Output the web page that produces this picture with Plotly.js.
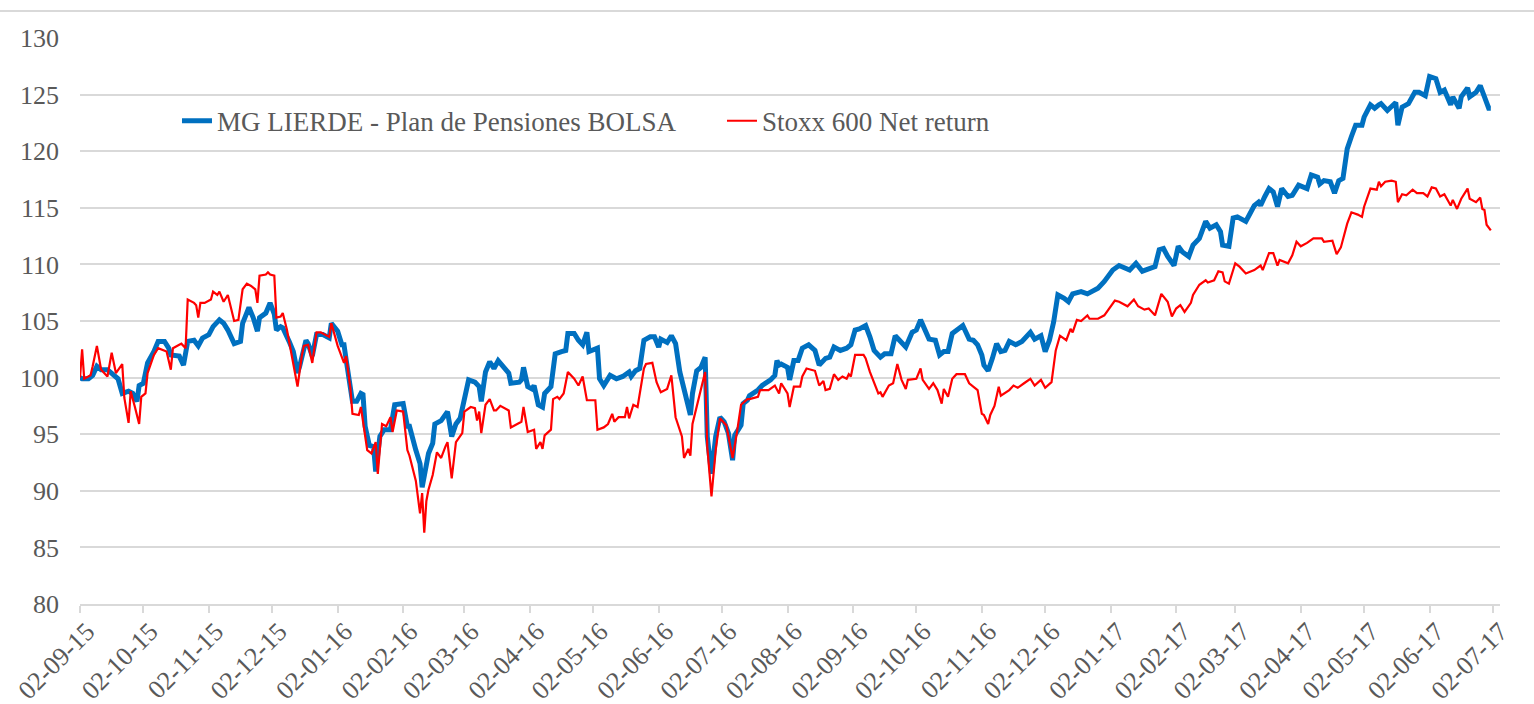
<!DOCTYPE html>
<html>
<head>
<meta charset="utf-8">
<script src="https://cdn.plot.ly/plotly-3.0.1.min.js"></script>
<style>
  html, body { margin: 0; padding: 0; background: #ffffff; }
  #chart { width: 1534px; height: 704px; }
</style>
</head>
<body>
<div id="chart"></div>
<script>
// ---- Data ----
const fundName = "MG LIERDE - Plan de Pensiones BOLSA";
const indexName = "Stoxx 600 Net return";

const fundDates = [
"2015-09-02","2015-09-03","2015-09-06","2015-09-08","2015-09-10","2015-09-12","2015-09-15","2015-09-17","2015-09-20","2015-09-22",
"2015-09-25","2015-09-27","2015-09-29","2015-09-30","2015-10-02","2015-10-04","2015-10-07","2015-10-09","2015-10-12","2015-10-14",
"2015-10-15","2015-10-19","2015-10-21","2015-10-23","2015-10-26","2015-10-28","2015-10-30","2015-11-02","2015-11-04","2015-11-07",
"2015-11-09","2015-11-11","2015-11-13","2015-11-14","2015-11-17","2015-11-18","2015-11-21","2015-11-23","2015-11-25","2015-11-26",
"2015-11-29","2015-12-01","2015-12-03","2015-12-04","2015-12-06","2015-12-07","2015-12-10","2015-12-12","2015-12-14","2015-12-15",
"2015-12-18","2015-12-19","2015-12-21","2015-12-23","2015-12-26","2015-12-29","2015-12-30","2016-01-02","2016-01-04","2016-01-05",
"2016-01-06","2016-01-08","2016-01-09","2016-01-11","2016-01-13","2016-01-14","2016-01-15","2016-01-17","2016-01-19","2016-01-20",
"2016-01-22","2016-01-24","2016-01-27","2016-01-29","2016-02-01","2016-02-02","2016-02-04","2016-02-05","2016-02-08","2016-02-10",
"2016-02-11","2016-02-13","2016-02-14","2016-02-16","2016-02-17","2016-02-20","2016-02-23","2016-02-25","2016-02-27","2016-02-29",
"2016-03-02","2016-03-04","2016-03-07","2016-03-09","2016-03-10","2016-03-12","2016-03-14","2016-03-16","2016-03-18","2016-03-21",
"2016-03-23","2016-03-24","2016-03-28","2016-03-29","2016-03-30","2016-04-01","2016-04-03","2016-04-04","2016-04-06","2016-04-08",
"2016-04-09","2016-04-12","2016-04-14","2016-04-17","2016-04-19","2016-04-20","2016-04-23","2016-04-25","2016-04-27","2016-04-29",
"2016-04-30","2016-05-04","2016-05-05","2016-05-07","2016-05-10","2016-05-13","2016-05-16","2016-05-19","2016-05-20","2016-05-22",
"2016-05-24","2016-05-26","2016-05-29","2016-05-31","2016-06-02","2016-06-03","2016-06-06","2016-06-08","2016-06-10","2016-06-12",
"2016-06-14","2016-06-17","2016-06-18","2016-06-20","2016-06-22","2016-06-24","2016-06-25","2016-06-27","2016-06-29","2016-07-01",
"2016-07-03","2016-07-05","2016-07-07","2016-07-08","2016-07-11","2016-07-12","2016-07-14","2016-07-15","2016-07-19","2016-07-21",
"2016-07-25","2016-07-27","2016-07-28","2016-07-29","2016-07-30","2016-08-02","2016-08-03","2016-08-05","2016-08-07","2016-08-09",
"2016-08-12","2016-08-15","2016-08-17","2016-08-20","2016-08-22","2016-08-24","2016-08-27","2016-08-30","2016-09-01","2016-09-03",
"2016-09-05","2016-09-07","2016-09-08","2016-09-10","2016-09-12","2016-09-15","2016-09-17","2016-09-20","2016-09-22","2016-09-24",
"2016-09-27","2016-09-30","2016-10-02","2016-10-04","2016-10-06","2016-10-08","2016-10-11","2016-10-13","2016-10-15","2016-10-17",
"2016-10-19","2016-10-21","2016-10-24","2016-10-27","2016-10-29","2016-10-31","2016-11-02","2016-11-03","2016-11-05","2016-11-07",
"2016-11-09","2016-11-11","2016-11-13","2016-11-15","2016-11-18","2016-11-21","2016-11-25","2016-11-27","2016-11-30","2016-12-02",
"2016-12-04","2016-12-06","2016-12-08","2016-12-11","2016-12-13","2016-12-15","2016-12-19","2016-12-22","2016-12-24","2016-12-27",
"2016-12-30","2017-01-03","2017-01-06","2017-01-09","2017-01-11","2017-01-14","2017-01-17","2017-01-20","2017-01-23","2017-01-25",
"2017-01-27","2017-01-29","2017-02-01","2017-02-03","2017-02-05","2017-02-08","2017-02-10","2017-02-13","2017-02-16","2017-02-18",
"2017-02-21","2017-02-23","2017-02-24","2017-02-27","2017-03-01","2017-03-03","2017-03-07","2017-03-09","2017-03-11","2017-03-13",
"2017-03-14","2017-03-16","2017-03-18","2017-03-20","2017-03-22","2017-03-24","2017-03-27","2017-03-29","2017-04-01","2017-04-05",
"2017-04-07","2017-04-10","2017-04-11","2017-04-13","2017-04-16","2017-04-18","2017-04-20","2017-04-22","2017-04-23","2017-04-24",
"2017-04-26","2017-04-28","2017-05-01","2017-05-02","2017-05-05","2017-05-07","2017-05-09","2017-05-10","2017-05-13","2017-05-15",
"2017-05-17","2017-05-18","2017-05-20","2017-05-23","2017-05-26","2017-05-28","2017-05-31","2017-06-02","2017-06-05","2017-06-07",
"2017-06-09","2017-06-12","2017-06-13","2017-06-16","2017-06-17","2017-06-20","2017-06-21","2017-06-24","2017-06-26","2017-06-28",
"2017-06-30","2017-07-01"
];
const fundValues = [
100.0,99.9,99.9,100.2,101.0,100.7,100.7,100.4,99.9,98.6,
98.8,98.6,97.9,99.3,99.5,101.3,102.3,103.2,103.2,102.6,
102.0,101.9,101.1,103.2,103.3,102.8,103.5,103.8,104.5,105.1,
104.8,104.2,103.2,103.0,103.2,104.8,106.2,105.3,104.1,105.3,
105.7,106.6,105.6,104.2,104.5,104.4,103.2,102.3,100.4,101.0,
103.3,103.0,101.9,103.8,103.8,103.5,104.8,104.1,102.9,102.9,
101.6,99.1,97.9,97.9,98.6,98.5,95.7,94.0,93.9,91.7,
94.8,95.4,95.4,97.6,97.7,97.7,95.7,95.7,93.6,92.4,
90.3,92.0,93.3,94.2,95.9,96.2,97.0,94.8,95.9,96.4,
98.0,99.8,99.6,99.2,97.9,100.5,101.4,100.8,101.5,100.8,
100.4,99.5,99.6,99.8,100.9,99.2,99.0,99.3,97.6,97.4,
98.6,99.2,102.1,102.3,102.4,103.9,103.9,103.3,102.9,104.0,
102.3,102.6,99.9,99.3,100.2,99.9,100.1,100.5,100.1,100.6,
100.8,103.3,103.6,103.6,102.7,103.4,103.1,103.7,103.0,100.5,
98.9,96.7,98.6,100.6,100.9,101.8,94.8,91.5,94.8,96.5,
96.1,95.1,92.7,94.9,95.8,97.7,98.0,98.4,98.9,99.3,
99.8,100.2,101.5,101.1,101.2,100.9,99.8,101.5,101.5,102.6,
102.9,102.4,101.1,101.7,101.8,102.7,102.4,102.6,102.9,104.2,
104.3,104.5,104.6,103.6,102.4,101.8,102.1,102.1,103.7,103.3,
102.7,104.0,104.2,105.1,104.2,103.4,103.3,102.0,102.3,102.3,
103.9,104.2,104.6,103.4,103.3,102.9,102.0,101.1,100.6,101.7,
103.0,102.3,102.4,103.2,102.9,103.2,104.0,103.4,103.7,102.3,
103.3,104.9,107.3,107.0,106.7,107.4,107.6,107.4,107.6,107.9,
108.5,109.5,109.9,109.6,109.5,110.1,109.4,109.6,109.8,111.3,
111.4,110.7,109.9,111.6,111.1,110.7,111.7,112.3,113.8,113.2,
113.5,112.9,111.7,111.6,114.1,114.2,113.8,114.5,115.2,115.5,
115.2,116.0,116.7,116.4,115.1,116.7,116.0,116.1,117.0,116.7,
117.9,117.7,117.1,117.4,117.3,116.3,117.4,117.6,119.2,120.2,
121.3,122.3,122.3,123.0,124.1,123.8,124.1,124.2,123.6,123.9,
124.3,122.3,123.9,124.2,125.2,125.2,124.9,126.6,126.4,125.2,
125.4,124.1,124.8,123.8,124.8,125.6,124.8,125.2,125.8,124.8,
123.8,123.8
];

const indexDates = [
"2015-09-02","2015-09-03","2015-09-04","2015-09-07","2015-09-08","2015-09-10","2015-09-12","2015-09-15","2015-09-17","2015-09-19",
"2015-09-22","2015-09-23","2015-09-25","2015-09-26","2015-09-28","2015-09-30","2015-10-01","2015-10-03","2015-10-04","2015-10-07",
"2015-10-09","2015-10-12","2015-10-13","2015-10-15","2015-10-16","2015-10-19","2015-10-20","2015-10-22","2015-10-23","2015-10-26",
"2015-10-27","2015-10-28","2015-10-29","2015-10-31","2015-11-03","2015-11-04","2015-11-06","2015-11-07","2015-11-09","2015-11-11",
"2015-11-14","2015-11-16","2015-11-18","2015-11-20","2015-11-22","2015-11-24","2015-11-25","2015-11-26","2015-11-29","2015-11-30",
"2015-12-01","2015-12-03","2015-12-04","2015-12-06","2015-12-07","2015-12-09","2015-12-10","2015-12-12","2015-12-14","2015-12-16",
"2015-12-17","2015-12-19","2015-12-21","2015-12-23","2015-12-25","2015-12-29","2015-12-30","2016-01-02","2016-01-05","2016-01-06",
"2016-01-08","2016-01-09","2016-01-12","2016-01-13","2016-01-16","2016-01-18","2016-01-20","2016-01-21","2016-01-23","2016-01-25",
"2016-01-27","2016-01-28","2016-01-30","2016-02-02","2016-02-04","2016-02-05","2016-02-08","2016-02-10","2016-02-11","2016-02-12",
"2016-02-13","2016-02-14","2016-02-16","2016-02-18","2016-02-20","2016-02-22","2016-02-23","2016-02-25","2016-02-27","2016-03-01",
"2016-03-02","2016-03-05","2016-03-07","2016-03-08","2016-03-09","2016-03-10","2016-03-12","2016-03-14","2016-03-16","2016-03-17",
"2016-03-19","2016-03-23","2016-03-24","2016-03-29","2016-03-30","2016-04-01","2016-04-04","2016-04-05","2016-04-07","2016-04-08",
"2016-04-09","2016-04-12","2016-04-13","2016-04-15","2016-04-16","2016-04-18","2016-04-20","2016-04-23","2016-04-25","2016-04-27",
"2016-04-29","2016-05-03","2016-05-04","2016-05-07","2016-05-09","2016-05-11","2016-05-12","2016-05-14","2016-05-17","2016-05-18",
"2016-05-19","2016-05-21","2016-05-23","2016-05-26","2016-05-27","2016-05-30","2016-06-01","2016-06-03","2016-06-06","2016-06-08",
"2016-06-10","2016-06-13","2016-06-14","2016-06-16","2016-06-17","2016-06-18","2016-06-21","2016-06-22","2016-06-24","2016-06-25",
"2016-06-27","2016-06-29","2016-07-01","2016-07-04","2016-07-07","2016-07-09","2016-07-11","2016-07-14","2016-07-15","2016-07-19",
"2016-07-20","2016-07-24","2016-07-27","2016-07-29","2016-07-30","2016-08-02","2016-08-03","2016-08-05","2016-08-08","2016-08-09",
"2016-08-11","2016-08-15","2016-08-17","2016-08-19","2016-08-20","2016-08-22","2016-08-24","2016-08-26","2016-08-28","2016-08-30",
"2016-08-31","2016-09-01","2016-09-03","2016-09-07","2016-09-08","2016-09-10","2016-09-12","2016-09-14","2016-09-15","2016-09-16",
"2016-09-19","2016-09-21","2016-09-23","2016-09-25","2016-09-27","2016-09-28","2016-10-02","2016-10-04","2016-10-05","2016-10-08",
"2016-10-10","2016-10-12","2016-10-14","2016-10-15","2016-10-17","2016-10-19","2016-10-21","2016-10-25","2016-10-27","2016-10-31",
"2016-11-02","2016-11-03","2016-11-05","2016-11-06","2016-11-08","2016-11-10","2016-11-11","2016-11-15","2016-11-17","2016-11-19",
"2016-11-22","2016-11-25","2016-11-27","2016-11-30","2016-12-02","2016-12-05","2016-12-07","2016-12-09","2016-12-12","2016-12-14",
"2016-12-15","2016-12-17","2016-12-19","2016-12-22","2016-12-23","2016-12-27","2016-12-30","2017-01-01","2017-01-04","2017-01-06",
"2017-01-09","2017-01-10","2017-01-13","2017-01-15","2017-01-18","2017-01-20","2017-01-23","2017-01-26","2017-01-29","2017-01-31",
"2017-02-02","2017-02-04","2017-02-06","2017-02-09","2017-02-10","2017-02-13","2017-02-16","2017-02-17","2017-02-20","2017-02-22",
"2017-02-24","2017-02-25","2017-02-27","2017-03-02","2017-03-04","2017-03-07","2017-03-11","2017-03-14","2017-03-15","2017-03-18",
"2017-03-20","2017-03-22","2017-03-23","2017-03-27","2017-03-29","2017-03-31","2017-04-02","2017-04-05","2017-04-08","2017-04-12",
"2017-04-13","2017-04-17","2017-04-19","2017-04-21","2017-04-24","2017-04-26","2017-04-29","2017-05-01","2017-05-02","2017-05-05",
"2017-05-08","2017-05-09","2017-05-10","2017-05-12","2017-05-15","2017-05-17","2017-05-18","2017-05-20","2017-05-22","2017-05-25",
"2017-05-27","2017-05-30","2017-06-01","2017-06-03","2017-06-05","2017-06-07","2017-06-09","2017-06-12","2017-06-13","2017-06-15",
"2017-06-17","2017-06-20","2017-06-21","2017-06-24","2017-06-26","2017-06-27","2017-06-28","2017-06-29","2017-07-01"
];
const indexValues = [
100.0,102.5,99.9,100.2,101.0,102.8,100.7,100.1,102.2,100.4,
101.2,98.2,96.0,98.8,97.4,95.9,98.3,98.6,100.4,102.0,
102.6,102.4,102.3,100.7,102.6,102.9,103.0,102.6,106.9,106.6,
106.4,105.3,106.6,106.6,106.9,107.6,107.3,107.6,106.7,107.3,
105.0,105.1,107.8,108.3,108.1,107.8,106.6,109.0,109.1,109.3,
109.1,109.0,105.3,105.4,105.7,104.2,103.2,101.0,99.2,101.9,
102.8,102.9,101.3,104.0,104.0,103.6,104.8,102.8,101.3,101.9,
99.1,96.8,96.7,97.4,93.6,93.3,94.3,91.5,95.9,95.7,
96.5,95.2,97.1,97.0,93.6,93.1,90.9,88.0,89.8,86.3,
89.1,90.1,91.4,93.4,92.9,93.9,94.3,91.1,94.3,95.1,
97.0,97.4,97.3,96.2,97.0,95.1,97.6,98.1,97.1,97.1,
97.5,97.1,95.6,96.1,97.4,95.2,95.4,93.7,94.3,93.7,
94.9,95.4,98.1,98.3,98.1,98.6,100.5,99.9,99.3,100.1,
98.0,98.0,95.4,95.6,95.9,96.8,96.1,96.5,96.5,97.4,
96.4,97.6,97.4,100.8,101.2,101.3,99.6,98.7,99.0,100.2,
96.5,94.8,92.9,93.7,93.1,95.9,98.3,98.9,100.5,93.9,
89.5,93.6,96.4,95.8,92.9,95.1,97.6,98.1,98.1,98.3,
98.9,98.9,99.3,98.6,99.5,98.6,97.4,99.2,99.2,100.1,
100.8,100.6,99.3,99.7,98.9,99.0,100.3,99.8,100.1,99.9,
100.3,100.1,102.0,102.0,101.7,100.5,99.6,98.6,98.7,98.3,
99.3,99.5,101.2,99.8,99.0,99.8,99.9,100.8,99.8,99.0,
99.5,98.9,97.7,99.0,98.3,99.9,100.3,100.3,99.5,98.9,
96.8,96.7,95.9,96.7,97.5,99.2,98.4,98.9,99.3,99.1,
99.5,99.9,99.3,99.8,99.1,99.6,102.4,103.7,103.3,104.3,
104.0,105.1,105.0,105.5,105.2,105.2,105.5,106.0,106.8,106.7,
106.4,106.3,106.9,106.3,106.0,106.1,105.5,107.4,106.7,105.4,
106.1,106.4,105.8,106.6,107.3,108.2,108.6,108.4,108.6,109.4,
109.3,108.5,108.3,110.1,109.8,109.2,109.5,109.9,109.5,111.0,
111.0,109.9,110.4,110.1,110.8,112.0,111.6,111.9,112.3,112.3,
112.0,112.1,110.9,111.5,113.6,114.6,114.4,114.2,115.1,116.7,
116.6,117.3,116.9,117.3,117.4,117.3,115.5,116.2,116.1,116.6,
116.3,116.3,116.0,116.8,116.7,116.0,116.2,115.2,115.7,114.9,
115.8,116.7,115.8,115.5,115.9,114.9,114.8,113.5,113.0
];

const tickDates = [
"2015-09-02","2015-10-02","2015-11-02","2015-12-02","2016-01-02","2016-02-02","2016-03-02","2016-04-02",
"2016-05-02","2016-06-02","2016-07-02","2016-08-02","2016-09-02","2016-10-02","2016-11-02","2016-12-02",
"2017-01-02","2017-02-02","2017-03-02","2017-04-02","2017-05-02","2017-06-02","2017-07-02"
];
const tickLabels = [
"02-09-15","02-10-15","02-11-15","02-12-15","02-01-16","02-02-16","02-03-16","02-04-16",
"02-05-16","02-06-16","02-07-16","02-08-16","02-09-16","02-10-16","02-11-16","02-12-16",
"02-01-17","02-02-17","02-03-17","02-04-17","02-05-17","02-06-17","02-07-17"
];
const yTicks = [80, 85, 90, 95, 100, 105, 110, 115, 120, 125, 130];

// ---- Chart ----
const FONT = "Liberation Serif, Times New Roman, serif";
const TXT = "#595959";
const GRID = "#d9d9d9";

const traces = [
  {
    type: "scatter", mode: "lines", name: fundName,
    x: fundDates, y: fundValues,
    line: { color: "#0070C0", width: 5, shape: "linear" },
    hoverinfo: "x+y"
  },
  {
    type: "scatter", mode: "lines", name: indexName,
    x: indexDates, y: indexValues,
    line: { color: "#FF0000", width: 2.2, shape: "linear" },
    hoverinfo: "x+y"
  }
];

const layout = {
  width: 1534, height: 704,
  margin: { l: 80, r: 34, t: 38, b: 100 },
  paper_bgcolor: "#ffffff", plot_bgcolor: "#ffffff",
  font: { family: FONT, size: 26, color: TXT },
  showlegend: true,
  legend: {
    orientation: "h",
    x: 0.0683, xanchor: "left",
    y: 0.853, yanchor: "middle",
    bgcolor: "rgba(0,0,0,0)",
    font: { family: FONT, size: 27, color: TXT },
    entrywidth: 500, entrywidthmode: "pixels",
    traceorder: "normal"
  },
  xaxis: {
    type: "date",
    range: ["2015-09-02", "2017-07-05 08:24"],
    tickmode: "array", tickvals: tickDates, ticktext: tickLabels,
    tickangle: -45,
    tickfont: { family: FONT, size: 26, color: TXT },
    ticklabelshift: 7, ticklabelstandoff: -7,
    showgrid: false, zeroline: false,
    showline: true, linecolor: GRID, linewidth: 2,
    ticks: "outside", ticklen: 7, tickwidth: 2, tickcolor: GRID
  },
  yaxis: {
    range: [80, 130],
    tickmode: "array", tickvals: yTicks,
    tickfont: { family: FONT, size: 26, color: TXT },
    showgrid: true, gridcolor: GRID, gridwidth: 2,
    zeroline: false, showline: false, ticks: "",
    ticklabelstandoff: 20
  },
  shapes: [
    { type: "line", xref: "paper", yref: "paper",
      x0: -80/1420, x1: 1454/1420, y0: (604-11)/566, y1: (604-11)/566,
      line: { color: GRID, width: 2 } }
  ]
};

Plotly.newPlot("chart", traces, layout, { displayModeBar: false, staticPlot: true });
</script>
</body>
</html>
